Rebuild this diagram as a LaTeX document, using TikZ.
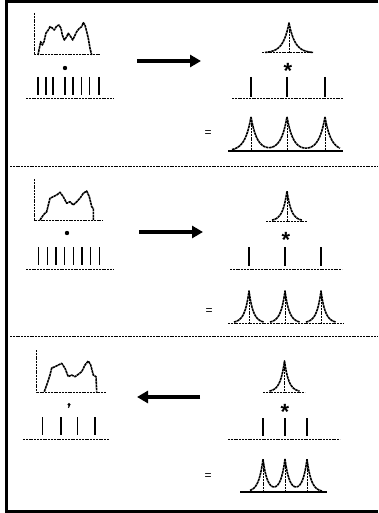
\documentclass[tikz,border=0pt]{standalone}
\usepackage{fontspec}
\setmainfont{Liberation Sans}
\usetikzlibrary{arrows.meta}

% one symmetric cusp: centre, base line, height, decay, half span
\newcommand\onecusp[5]{%
  \draw[curve] plot[domain=-#5:#5, samples=61] ({#1+\x},{#2-#3*exp(-abs(\x)/#4)});
  \draw[fine] (#1,#2-#3) -- (#1,#2);
}
% three superposed cusps: c1, c2, c3, base line, height, decay, left end, right end
\newcommand\cusprow[8]{%
  \foreach \lo/\hi in {#7/#1,#1/#2,#2/#3,#3/#8}{
    \draw[curve] plot[domain=\lo:\hi, samples=40]
      (\x,{#4-#5*(exp(-abs(\x-#1)/#6)+exp(-abs(\x-#2)/#6)+exp(-abs(\x-#3)/#6))});
  }
  \foreach \c in {#1,#2,#3}
    \draw[fine] (\c,{#4-#5*(exp(-abs(\c-#1)/#6)+exp(-abs(\c-#2)/#6)+exp(-abs(\c-#3)/#6))}) -- (\c,#4);
}

\begin{document}
\begin{tikzpicture}[x=1pt,y=-1pt,
  frame/.style={line width=3pt},
  fine/.style={line width=1pt, dash pattern=on 2pt off 0.8pt},
  tick/.style={line width=1.3pt},
  curve/.style={line width=1.6pt, line join=round, dash pattern=on 2.6pt off 0.6pt},
  flow/.style={line width=4pt, -{Triangle[length=11pt,width=12pt]}},
  startext/.style={font=\fontsize{22}{22}\selectfont\bfseries, inner sep=0pt, anchor=base},
  eqtext/.style={font=\fontsize{12}{12}\selectfont, inner sep=0pt, anchor=base}]
\useasboundingbox (0,0) rectangle (378,513);

% outer frame and panel dividers
\draw[frame] (378,1.8) -- (6.5,1.8) -- (6.5,511.5) -- (378,511.5);
\draw[fine] (10,166) -- (378,166);
\draw[fine] (10,336.5) -- (378,336.5);

% ---------- panel 1 ----------
\draw[fine] (34,13) -- (34,55) -- (101,55);
\draw[curve] (38,55) -- (40.7,41.7) -- (42.3,45) -- (44,41.7) -- (46,33) -- (48.3,30)
  -- (50,26.7) -- (52.3,28) -- (54.3,30) -- (56.7,26) -- (59,25) -- (61,28.3) -- (62.3,35)
  -- (64.3,40) -- (66.7,36.7) -- (68.3,33.3) -- (70.7,36.7) -- (72.7,40) -- (74.3,36.7)
  -- (76.7,31.7) -- (79.3,28.3) -- (81.7,26.7) -- (83.3,22.7) -- (85,25) -- (86.7,31.7)
  -- (88.3,38.3) -- (90,48.3) -- (91.7,55);
\fill (65,68) circle (2.2);
\foreach \t in {38,46,53,65,73,81.5,89.5,99} \draw[tick] (\t,77) -- (\t,95);
\draw[fine] (26,99) -- (113,99);

\coordinate (a1) at (137,61);
\coordinate (b1) at (201,61);
\draw[flow] (a1) -- (b1);

\draw[fine] (262,53) -- (313,53);
\onecusp{289}{53}{30}{6}{24}
\node[startext] (star1) at (288,78.5) {*};
\foreach \t in {251,287,325} \draw[tick] (\t,77) -- (\t,97);
\draw[fine] (232,99) -- (343,99);
\node[eqtext] (eq1) at (208,137) {=};
\draw[tick] (228,151) -- (343,151);
\cusprow{251}{287}{325}{151}{34}{6}{232}{340}

% ---------- panel 2 ----------
\draw[fine] (34,179) -- (34,220) -- (103,220);
\draw[curve] (40,220) -- (43.3,215) -- (46.7,211.7) -- (48.3,205) -- (50,198.3) -- (53.3,196.7)
  -- (56.7,195) -- (60,192.3) -- (63.3,196.7) -- (66.7,203.3) -- (70,201.7) -- (73.3,205)
  -- (76.7,201.7) -- (80,198.3) -- (83.3,193.3) -- (86.7,191) -- (89.3,196.7) -- (91.7,206.7)
  -- (93.3,208.3) -- (93.3,220);
\fill (67,233) circle (2.2);
\foreach \t in {38.5,47.2,55.9,64.6,73.3,82,90.7,99.4} \draw[tick] (\t,247) -- (\t,265);
\draw[fine] (26,269) -- (113,269);

\coordinate (a2) at (139,232);
\coordinate (b2) at (203,232);
\draw[flow] (a2) -- (b2);

\draw[fine] (266,221) -- (307,221);
\onecusp{287}{221}{30}{4.3}{15}
\node[startext] (star2) at (286,247.5) {*};
\foreach \t in {249,285,321} \draw[tick] (\t,247) -- (\t,266);
\draw[fine] (230,269) -- (342,269);
\node[eqtext] (eq2) at (209,314) {=};
\draw[fine] (228,323) -- (343,323);
\onecusp{249}{323}{32}{4.3}{15}
\onecusp{285}{323}{32}{4.3}{15}
\onecusp{321}{323}{32}{4.3}{15}

% ---------- panel 3 ----------
\draw[fine] (36.7,350) -- (36.7,392) -- (106,392);
\draw[curve] (44.3,391.7) -- (46.7,385) -- (50,375) -- (51.7,368) -- (55,366.7) -- (58.3,365)
  -- (61.7,363.3) -- (65,368.3) -- (68.3,376.7) -- (71.7,375) -- (75,376.7) -- (78.3,374.3)
  -- (81.7,371.7) -- (85,365) -- (88.3,361) -- (90.7,365) -- (93.3,375) -- (96,376.7)
  -- (96.7,391.7);
\fill (69,404.5) circle (1.6);
\draw[line width=1.1pt] (69.8,404.5) -- (68.4,407.8);
\foreach \t in {42.7,61,77.3,95} \draw[tick] (\t,417) -- (\t,435);
\draw[fine] (23,439) -- (109,439);

\coordinate (a3) at (200,397);
\coordinate (b3) at (137,397);
\draw[flow] (a3) -- (b3);

\draw[fine] (263,392) -- (305,392);
\onecusp{284.5}{392}{31}{4.3}{15}
\node[startext] (star3) at (285,419.5) {*};
\foreach \t in {263,285,307} \draw[tick] (\t,418) -- (\t,436);
\draw[fine] (228,439) -- (340,439);
\node[eqtext] (eq3) at (208,479) {=};
\draw[tick] (240,492) -- (327,492);
\cusprow{263}{285}{307}{492}{32.6}{4.3}{250}{322}
\end{tikzpicture}
\end{document}
